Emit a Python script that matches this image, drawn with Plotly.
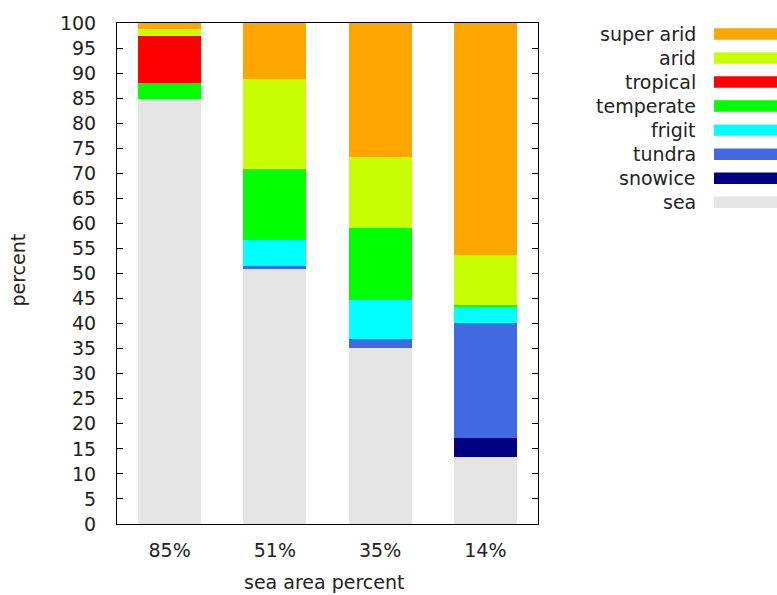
import plotly.graph_objects as go

categories = ["85%", "51%", "35%", "14%"]
series_names = ["sea", "snowice", "tundra", "frigit", "temperate", "tropical", "arid", "super arid"]
colors = ["#E5E5E5", "#000080", "#4169E1", "#00FFFF", "#00FF00", "#FF0000", "#C8FF00", "#FFA500"]

sea = [84.9, 50.8, 35.2, 13.4]
snowice = [0.0, 0.0, 0.0, 3.8]
tundra = [0.0, 0.6, 1.8, 22.9]
frigit = [0.0, 5.2, 7.7, 3.3]
temperate = [3.2, 14.3, 14.4, 0.3]
tropical = [9.4, 0.0, 0.0, 0.0]
arid = [1.3, 18.0, 14.2, 10.0]
super_arid = [1.2, 11.1, 26.7, 46.6]

values = [sea, snowice, tundra, frigit, temperate, tropical, arid, super_arid]
yticks = list(range(0, 101, 5))

FONT = "DejaVu Sans"
FS = 19
TXT = "#222"

fig = go.Figure()
for name, col, vals in zip(series_names, colors, values):
    fig.add_trace(go.Bar(x=categories, y=vals, name=name, marker=dict(color=col, line=dict(width=0)),
                         width=0.6, showlegend=False))

# custom gnuplot-style legend (text right, swatch on the right side)
W, H = 777, 595
L, R, T, B = 117, 239, 18, 71
pw, ph = W - L - R, H - T - B
annotations = []
shapes = []
legend_order = list(reversed(range(len(series_names))))
for i, idx in enumerate(legend_order):
    cy = 29.0 + 24.3 * i
    yp = (H - B - cy) / ph
    annotations.append(dict(xref="paper", yref="paper", x=(698 - L) / pw, y=yp, xanchor="right",
                            yanchor="middle", text=series_names[idx], showarrow=False,
                            font=dict(family=FONT, size=FS, color=TXT)))
    shapes.append(dict(type="rect", xref="paper", yref="paper", x0=(714 - L) / pw, x1=(777 - L) / pw,
                       y0=yp - 5.8 / ph, y1=yp + 5.8 / ph, fillcolor=colors[idx], line=dict(width=0)))

annotations.append(dict(xref="paper", yref="paper", x=(324 - L) / pw, y=(H - B - 583) / ph,
                        text="sea area percent", showarrow=False, xanchor="center", yanchor="middle",
                        font=dict(family=FONT, size=FS, color=TXT)))
annotations.append(dict(xref="paper", yref="paper", x=(18 - L) / pw, y=(H - B - 268) / ph,
                        text="percent", showarrow=False, xanchor="center", yanchor="middle", textangle=-90,
                        font=dict(family=FONT, size=FS, color=TXT)))

fig.update_layout(
    barmode="stack",
    width=W, height=H,
    margin=dict(l=L, r=R, t=T, b=B),
    plot_bgcolor="white", paper_bgcolor="white",
    font=dict(family=FONT, size=FS, color=TXT),
    annotations=annotations, shapes=shapes,
    xaxis=dict(range=[-0.5, 3.5], showline=True, mirror=True, linecolor="black", linewidth=1,
               ticks="", ticklabelstandoff=9, showgrid=False,
               tickfont=dict(family=FONT, size=FS, color=TXT)),
    yaxis=dict(range=[0, 100], tickvals=yticks, showline=True, mirror="allticks", linecolor="black",
               linewidth=1, ticks="inside", ticklen=6, tickcolor="black", showgrid=False, zeroline=False,
               ticklabelstandoff=16, tickfont=dict(family=FONT, size=FS, color=TXT)),
)

fig.write_html("out.html", config={"displayModeBar": False},
               post_script="document.body.style.margin='0px';document.body.style.overflow='hidden';")
